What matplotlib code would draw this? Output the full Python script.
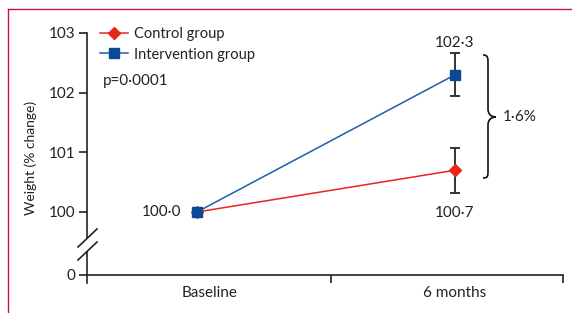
import matplotlib
matplotlib.use("Agg")
import matplotlib.pyplot as plt
from matplotlib.lines import Line2D
from matplotlib.path import Path
from matplotlib.patches import PathPatch

plt.rcParams['font.family'] = ['Lato', 'DejaVu Sans']
plt.rcParams['font.size'] = 11

# ---- data ----
categories = ['Baseline', '6 months']
control = [100.0, 100.7]
intervention = [100.0, 102.3]
control_err = [0.0, 0.38]
intervention_err = [0.0, 0.36]
ytick_values = [100, 101, 102, 103]
p_text = 'p=0·0001'
diff_text = '1·6%'

RED = '#e8261c'
BLUE_LINE = '#1f5ca8'
BLUE_MARK = '#0a4a94'
INK = '#222222'
FRAME = '#c4173f'

W, H = 572, 313
fig = plt.figure(figsize=(W / 100, H / 100), dpi=100)

# axes placement in pixels
ax_l, ax_r, ax_t, ax_b = 87, 563, 33, 283
ax = fig.add_axes([ax_l / W, 1 - ax_b / H, (ax_r - ax_l) / W, (ax_b - ax_t) / H])

ppu = (212 - 33) / 3.0          # pixels per y unit
y_zero = 100 - (275 - 212) / ppu  # position used for broken-axis "0"
ax.set_ylim(103 - (ax_b - ax_t) / ppu, 103)
xpu = 455 - 197
ax.set_xlim(-(197 - ax_l) / xpu, 1 + (ax_r - 455) / xpu)


def px2d(px, py):
    return (px - 197) / xpu, 103 - (py - 33) / ppu


x = list(range(len(categories)))

# error bars
ax.errorbar(x, control, yerr=control_err, fmt='none', ecolor='#333333',
            elinewidth=1.4, capsize=3.5, capthick=1.4, zorder=2)
ax.errorbar(x, intervention, yerr=intervention_err, fmt='none', ecolor='#333333',
            elinewidth=1.4, capsize=3.5, capthick=1.4, zorder=2)

# lines
ax.plot(x, control, color=RED, lw=1.1, marker='D', ms=6.5, mfc=RED, mec=RED,
        zorder=3, clip_on=False)
ax.plot(x, intervention, color=BLUE_LINE, lw=1.1, marker='s', ms=7.5,
        mfc=BLUE_MARK, mec=BLUE_MARK, zorder=4, clip_on=False)

# value labels
def fmt(v):
    return f'{v:.1f}'.replace('.', '·')

ax.annotate(fmt(intervention[1]), (x[1], intervention[1]), xytext=(0, 23),
            textcoords='offset points', ha='center', va='center', color=INK)
ax.annotate(fmt(control[1]), (x[1], control[1]), xytext=(0, -31),
            textcoords='offset points', ha='center', va='center', color=INK)
ax.annotate(fmt(intervention[0]), (x[0], intervention[0]), xytext=(-11, 0),
            textcoords='offset points', ha='right', va='center', color=INK)

# spines & ticks
for s in ['top', 'right']:
    ax.spines[s].set_visible(False)
for s in ['left', 'bottom']:
    ax.spines[s].set_color(INK)
    ax.spines[s].set_linewidth(1.2)
ax.spines['bottom'].set_position(('data', y_zero))

ax.set_yticks([y_zero] + ytick_values)
ax.set_yticklabels(['0'] + [str(v) for v in ytick_values])
ax.tick_params(axis='y', length=6, width=1.2, color=INK, pad=2.5, labelcolor=INK)

mid = px2d(331, 0)[0]
ax.set_xticks([mid, ax.get_xlim()[1]])
ax.set_xticklabels(['', ''])
ax.tick_params(axis='x', length=5.8, width=1.2, color=INK, direction='out')

# category labels
for xi, lab in zip(x, categories):
    off = 9 if xi == 0 else 0
    ax.annotate(lab, (xi, y_zero), xytext=(off, -13), textcoords='offset points',
                ha='center', va='center', color=INK, annotation_clip=False)

ax.set_ylabel('Weight (% change)', color=INK, fontsize=10)
ax.yaxis.set_label_coords(-(ax_l - 37) / (ax_r - ax_l), 0.5)

# axis break marks
gx = ax.get_xlim()[0]
ax.plot([gx, gx], [px2d(0, 238)[1], px2d(0, 251)[1]], color='white', lw=3,
        clip_on=False, zorder=5, solid_capstyle='butt')
for (a, b) in [((78, 247), (97, 229)), ((78, 260), (97, 242))]:
    p1, p2 = px2d(*a), px2d(*b)
    ax.plot([p1[0], p2[0]], [p1[1], p2[1]], color=INK, lw=1.2, clip_on=False, zorder=6)

# brace
bp = [(483, 55), (488, 55), (488, 58), (488, 63),
      (488, 109),
      (488, 114), (491, 117), (496, 117),
      (491, 117), (488, 120), (488, 125),
      (488, 171),
      (488, 176), (488, 178), (483, 178)]
codes = [Path.MOVETO, Path.CURVE4, Path.CURVE4, Path.CURVE4,
         Path.LINETO,
         Path.CURVE4, Path.CURVE4, Path.CURVE4,
         Path.CURVE4, Path.CURVE4, Path.CURVE4,
         Path.LINETO,
         Path.CURVE4, Path.CURVE4, Path.CURVE4]
verts = [px2d(*p) for p in bp]
ax.add_patch(PathPatch(Path(verts, codes), fill=False, lw=1.2, edgecolor='#111111',
                       clip_on=False, zorder=5))
tx, ty = px2d(503, 117)
ax.text(tx, ty, diff_text, ha='left', va='center', color=INK)

# p-value
ax.text((103 - ax_l) / (ax_r - ax_l), (ax_b - 81) / (ax_b - ax_t), p_text,
        transform=ax.transAxes, ha='left', va='center', color=INK)

# legend
handles = [Line2D([], [], color=RED, lw=1.1, marker='D', ms=6.5, mfc=RED, mec=RED),
           Line2D([], [], color=BLUE_LINE, lw=1.1, marker='s', ms=7.5,
                  mfc=BLUE_MARK, mec=BLUE_MARK)]
leg = ax.legend(handles, ['Control group', 'Intervention group'], loc='upper left',
                bbox_to_anchor=((100 - ax_l) / (ax_r - ax_l), (ax_b - 27) / (ax_b - ax_t)),
                frameon=False, handlelength=1.9, handletextpad=0.45,
                labelspacing=0.45, borderpad=0, borderaxespad=0, fontsize=10.5)
for t in leg.get_texts():
    t.set_color(INK)

# frame lines (left and top)
fig.add_artist(Line2D([8 / W, 8 / W], [0, 1 - 9 / H], color=FRAME, lw=1.0))
fig.add_artist(Line2D([8 / W, 1], [1 - 9 / H, 1 - 9 / H], color=FRAME, lw=1.0))

fig.savefig('out.png', dpi=100)
